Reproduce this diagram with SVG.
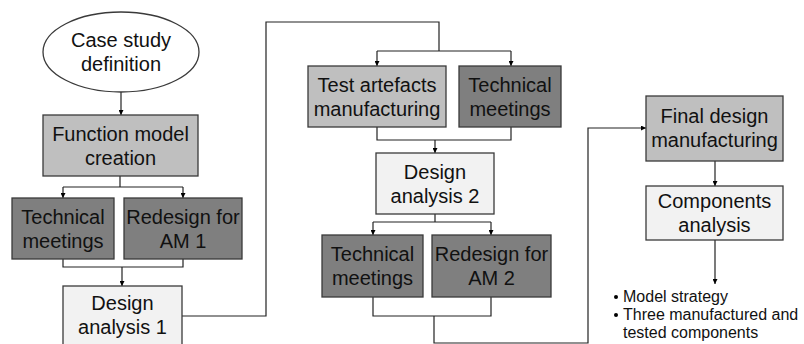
<svg xmlns="http://www.w3.org/2000/svg" width="804" height="344" viewBox="0 0 804 344">
<defs>
<marker id="ah" viewBox="0 0 10 10" refX="10" refY="5" markerWidth="5" markerHeight="5" markerUnits="userSpaceOnUse" orient="auto">
<path d="M0,0 L10,5 L0,10 z" fill="#000"/>
</marker>
<style>
.box{stroke:#3a3a3a;stroke-width:1.3}
.light{fill:#f2f2f2}
.mid{fill:#bfbfbf}
.dark{fill:#7f7f7f}
.t{font-family:"Liberation Sans",Arial,sans-serif;font-size:20px;fill:#111;text-anchor:middle}
.b{font-family:"Liberation Sans",Arial,sans-serif;font-size:16px;fill:#111}
.c{fill:none;stroke:#222;stroke-width:1.2}
.ca{fill:none;stroke:#222;stroke-width:1.2;marker-end:url(#ah)}
</style>
</defs>
<rect width="804" height="344" fill="#fff"/>
<g id="connectors">
<path class="ca" d="M121,92 V115"/>
<path class="c" d="M120,176 V187 M63,187 H183"/>
<path class="ca" d="M63,187 V198"/>
<path class="ca" d="M183,187 V198"/>
<path class="c" d="M63,259 V267 H183 V259"/>
<path class="ca" d="M122,267 V286"/>
<path class="c" d="M182,316 H266 V22 H439 V51 M377,51 H511"/>
<path class="ca" d="M377,51 V66"/>
<path class="ca" d="M511,51 V66"/>
<path class="c" d="M377,127 V140 H511 V127"/>
<path class="ca" d="M435,140 V153"/>
<path class="c" d="M435,214 V222 M373,222 H491"/>
<path class="ca" d="M373,222 V235"/>
<path class="ca" d="M491,222 V235"/>
<path class="c" d="M373,297 V316 H491 V297"/>
<path class="ca" d="M434,316 V343 H588 V128 H646"/>
<path class="ca" d="M715,161 V186"/>
<path class="ca" d="M715,240 V284"/>
</g>
<g id="case-study">
<ellipse cx="121" cy="52" rx="78" ry="40" fill="#fff" class="box"/>
<text class="t" x="121" y="47">Case study</text>
<text class="t" x="121" y="71">definition</text>
</g>
<g id="function-model">
<rect class="box mid" x="43" y="115" width="155" height="61"/>
<text class="t" x="120.5" y="141">Function model</text>
<text class="t" x="120.5" y="165">creation</text>
</g>
<g id="tech-meetings-1">
<rect class="box dark" x="12" y="198" width="102" height="61"/>
<text class="t" x="63" y="224">Technical</text>
<text class="t" x="63" y="248">meetings</text>
</g>
<g id="redesign-1">
<rect class="box dark" x="124" y="198" width="118" height="61"/>
<text class="t" x="183" y="224">Redesign for</text>
<text class="t" x="183" y="248">AM 1</text>
</g>
<g id="design-analysis-1">
<rect class="box light" x="63" y="286" width="119" height="62"/>
<text class="t" x="122.5" y="310">Design</text>
<text class="t" x="122.5" y="334">analysis 1</text>
</g>
<g id="test-artefacts">
<rect class="box mid" x="308" y="66" width="138" height="61"/>
<text class="t" x="377" y="92">Test artefacts</text>
<text class="t" x="377" y="116">manufacturing</text>
</g>
<g id="tech-meetings-top">
<rect class="box dark" x="459" y="66" width="102" height="61"/>
<text class="t" x="510" y="92">Technical</text>
<text class="t" x="510" y="116">meetings</text>
</g>
<g id="design-analysis-2">
<rect class="box light" x="376" y="153" width="118" height="61"/>
<text class="t" x="435" y="179">Design</text>
<text class="t" x="435" y="203">analysis 2</text>
</g>
<g id="tech-meetings-2">
<rect class="box dark" x="322" y="235" width="101" height="62"/>
<text class="t" x="372.5" y="261">Technical</text>
<text class="t" x="372.5" y="285">meetings</text>
</g>
<g id="redesign-2">
<rect class="box dark" x="432" y="235" width="119" height="62"/>
<text class="t" x="491.5" y="261">Redesign for</text>
<text class="t" x="491.5" y="285">AM 2</text>
</g>
<g id="final-design">
<rect class="box mid" x="646" y="96" width="137" height="65"/>
<text class="t" x="714.5" y="123">Final design</text>
<text class="t" x="714.5" y="147">manufacturing</text>
</g>
<g id="components-analysis">
<rect class="box light" x="646" y="186" width="137" height="54"/>
<text class="t" x="714.5" y="208">Components</text>
<text class="t" x="714.5" y="232">analysis</text>
</g>
<g id="results">
<circle cx="616" cy="297" r="2" fill="#000"/>
<text class="b" x="623" y="302">Model strategy</text>
<circle cx="616" cy="315" r="2" fill="#000"/>
<text class="b" x="623" y="320">Three manufactured and</text>
<text class="b" x="623" y="338">tested components</text>
</g>
</svg>
